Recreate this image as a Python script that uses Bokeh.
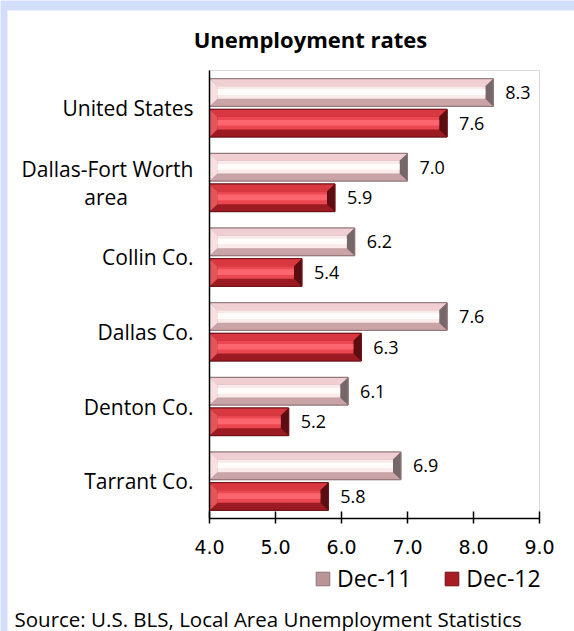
from bokeh.plotting import figure
from bokeh.models import Range1d, FixedTicker, Legend, LegendItem, PrintfTickFormatter, Label
from bokeh.embed import file_html
from bokeh.resources import INLINE
from bokeh.core.properties import value

# ---------------- data ----------------
categories = ["United States", "Dallas-Fort Worth\narea", "Collin Co.",
              "Dallas Co.", "Denton Co.", "Tarrant Co."]
dec11 = [8.3, 7.0, 6.2, 7.6, 6.1, 6.9]
dec12 = [7.6, 5.9, 5.4, 6.3, 5.2, 5.8]
series_names = ["Dec-11", "Dec-12"]
x_ticks = [4.0, 5.0, 6.0, 7.0, 8.0, 9.0]
title_text = "Unemployment rates"
source_text = "Source: U.S. BLS, Local Area Unemployment Statistics"

# ---------------- layout (pixels) ----------------
W, HT = 574, 631
PL, PR, PT, PB = 209, 539, 70, 518   # plot-area edges in page pixels
X0, X1 = 4.0, 9.0
n = len(categories)
sx = (PR - PL) / (X1 - X0)
sy = (PB - PT) / n


def px2x(px):
    return X0 + (px - PL) / sx


def py2y(py):
    return (PB - py) / sy


pos = [n - 0.5 - i for i in range(n)]

NB = "\u00a0"
label_text = [c.replace("\narea", "\narea" + NB * 12) for c in categories]

p = figure(width=W, height=HT, x_range=Range1d(px2x(0), px2x(W)),
           y_range=Range1d(py2y(HT), py2y(0)),
           output_backend="svg", toolbar_location=None, title=None,
           min_border=0, min_border_left=0, min_border_right=0,
           min_border_top=0, min_border_bottom=0)
p.xgrid.visible = False
p.ygrid.visible = False
p.outline_line_color = None
p.background_fill_color = "#d3dffa"
p.border_fill_color = "white"

# white chart area inside the light-blue frame
p.quad(left=px2x(7), right=px2x(W + 20), bottom=py2y(HT + 20), top=py2y(10),
       fill_color="white", line_color=None)
# plot-area border
p.quad(left=X0, right=X1, bottom=0, top=n, fill_alpha=0, line_color="#d9d9d9",
       line_width=1)

H = 0.37   # bar height (category units)
BX = 0.12  # bevel width (x units)
BY = 0.10  # bevel height (y units)

styles = {
    "Dec-11": dict(base="#b99597", line="#8f7576", top="#efcfd1", inner="#fbeaea",
                   hi="#ffffff", bottom="#c9a3a5", right="#76686a", left="#f6e0e0"),
    "Dec-12": dict(base="#a81c24", line="#6e1216", top="#d8383f", inner="#ea4750",
                   hi="#ff6e75", bottom="#9c1a21", right="#5c0d11", left="#e2555b"),
}


def draw_series(vals, offset, st):
    yc = [y + offset for y in pos]
    base = p.hbar(y=yc, left=X0, right=vals, height=H, fill_color=st["base"],
                  line_color=st["line"])
    t = [y + H / 2 for y in yc]
    b = [y - H / 2 for y in yc]
    top_xs = [[X0, v, v - BX, X0 + BX] for v in vals]
    top_ys = [[tt, tt, tt - BY, tt - BY] for tt in t]
    bot_xs = [[X0, v, v - BX, X0 + BX] for v in vals]
    bot_ys = [[bb, bb, bb + BY, bb + BY] for bb in b]
    r_xs = [[v, v, v - BX, v - BX] for v in vals]
    r_ys = [[tt, bb, bb + BY, tt - BY] for tt, bb in zip(t, b)]
    l_xs = [[X0, X0, X0 + BX, X0 + BX] for v in vals]
    l_ys = [[tt, bb, bb + BY, tt - BY] for tt, bb in zip(t, b)]
    p.patches(xs=top_xs, ys=top_ys, fill_color=st["top"], line_color=None)
    p.patches(xs=bot_xs, ys=bot_ys, fill_color=st["bottom"], line_color=None)
    p.patches(xs=l_xs, ys=l_ys, fill_color=st["left"], line_color=None)
    p.patches(xs=r_xs, ys=r_ys, fill_color=st["right"], line_color=None)
    p.hbar(y=yc, left=X0 + BX, right=[v - BX for v in vals], height=H - 2 * BY,
           fill_color=st["inner"], line_color=None)
    p.hbar(y=[y + 0.005 for y in yc], left=X0 + BX, right=[v - BX for v in vals],
           height=(H - 2 * BY) * 0.45, fill_color=st["hi"], fill_alpha=0.8, line_color=None)
    p.hbar(y=yc, left=X0, right=vals, height=H, fill_alpha=0,
           line_color=st["line"], line_width=1)
    p.text(x=vals, y=yc, text=[f"{v:.1f}" for v in vals], x_offset=12,
           text_baseline="middle", text_align="left",
           text_font=value("Open Sans"), text_font_size="18px", text_color="black")
    return base


r11 = draw_series(dec11, 0.205, styles["Dec-11"])
r12 = draw_series(dec12, -0.205, styles["Dec-12"])

# axes (pinned to the plot-area edges)
p.yaxis.fixed_location = X0
p.yaxis.bounds = (0, n)
p.yaxis.ticker = FixedTicker(ticks=pos)
p.yaxis.major_label_overrides = {pv: c for pv, c in zip(pos, label_text)}
p.yaxis.major_tick_in = 0
p.yaxis.major_tick_out = 0
p.yaxis.minor_tick_in = 0
p.yaxis.minor_tick_out = 0
p.yaxis.major_label_standoff = 16
p.yaxis.major_label_text_font = "Open Sans"
p.yaxis.major_label_text_font_size = "21px"
p.yaxis.major_label_text_color = "black"
p.yaxis.major_label_text_line_height = 1.0
p.yaxis.axis_line_color = "black"
p.yaxis.axis_line_width = 1.5

p.xaxis.fixed_location = 0
p.xaxis.bounds = (X0, X1)
p.xaxis.ticker = FixedTicker(ticks=x_ticks)
p.xaxis.formatter = PrintfTickFormatter(format="%.1f")
p.xaxis.major_tick_in = 7
p.xaxis.major_tick_out = 5
p.xaxis.minor_tick_in = 0
p.xaxis.minor_tick_out = 0
p.xaxis.major_tick_line_color = "black"
p.xaxis.major_tick_line_width = 1.5
p.xaxis.axis_line_color = "black"
p.xaxis.axis_line_width = 1.5
p.xaxis.major_label_standoff = 16
p.xaxis.major_label_text_font = "DejaVu Sans"
p.xaxis.major_label_text_font_size = "19px"
p.xaxis.major_label_text_color = "black"

# title and source
p.add_layout(Label(x=px2x(310), y=py2y(38), text=title_text, text_align="center",
                   text_baseline="middle", text_font="Open Sans",
                   text_font_style="bold", text_font_size="22px", text_color="black"))
p.add_layout(Label(x=px2x(14), y=py2y(618), text=source_text, text_align="left",
                   text_baseline="middle", text_font="Open Sans",
                   text_font_size="20.5px", text_color="black"))

legend = Legend(items=[LegendItem(label=series_names[0], renderers=[r11]),
                       LegendItem(label=series_names[1], renderers=[r12])],
                location=(314, HT - 594), orientation="horizontal",
                glyph_width=17, glyph_height=17, label_standoff=6, spacing=32,
                label_height=26, padding=0, margin=0, border_line_color=None,
                background_fill_alpha=0,
                label_text_font="Open Sans", label_text_font_size="23px",
                label_text_color="black")
p.add_layout(legend)

open("out.html", "w").write(file_html(p, INLINE))
